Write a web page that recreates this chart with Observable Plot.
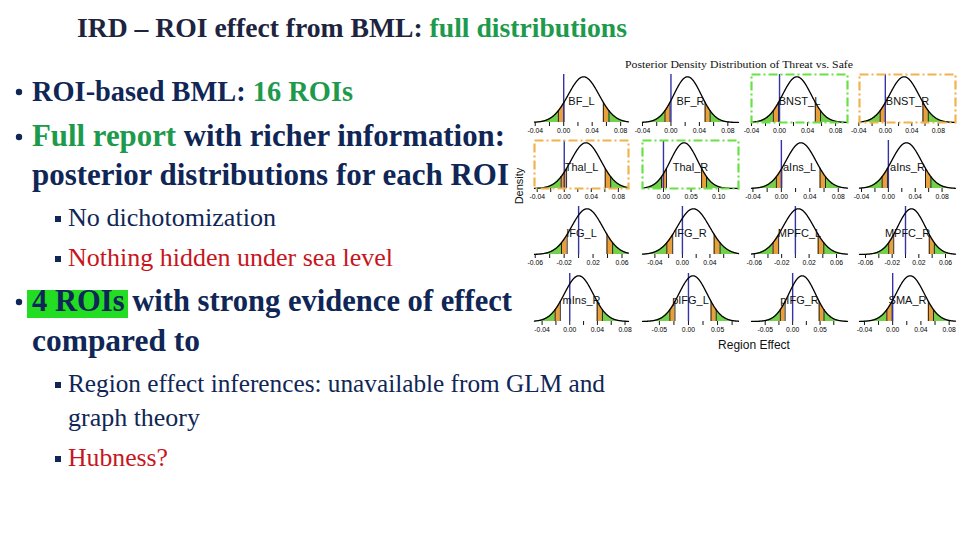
<!DOCTYPE html>
<html><head><meta charset="utf-8">
<script src="https://cdn.jsdelivr.net/npm/d3@7"></script>
<script src="https://cdn.jsdelivr.net/npm/@observablehq/plot@0.6"></script>
<style>
html,body{margin:0;padding:0;background:#fff;}
#slide{position:relative;width:960px;height:540px;overflow:hidden;background:#fff;}
#slide svg.panel{position:absolute;}
</style></head>
<body><div id="slide"></div>
<script>
// ---------- chart data ----------
const rois     = ["BF_L","BF_R","BNST_L","BNST_R","Thal_L","Thal_R","aIns_L","aIns_R",
                  "IFG_L","IFG_R","MPFC_L","MPFC_R","mIns_R","pIFG_L","pIFG_R","SMA_R"];
const postMean = [0.028,0.0233,0.0248,0.0285,0.032,0.0373,0.0275,0.027,
                  0.0117,0.016,0.0044,0.009,0.013,0.0078,0.0173,0.0248];
const postSD   = [0.0216,0.0193,0.0205,0.0221,0.0223,0.0248,0.0210,0.0221,
                  0.0215,0.0235,0.0225,0.0208,0.0208,0.0242,0.0242,0.0201];
const xLo      = [-0.041,-0.040,-0.040,-0.039,-0.044,-0.038,-0.042,-0.043,
                  -0.061,-0.058,-0.064,-0.069,-0.051,-0.079,-0.075,-0.047];
const xHi      = [0.091,0.095,0.097,0.106,0.095,0.136,0.093,0.100,
                  0.069,0.0815,0.076,0.075,0.085,0.086,0.100,0.089];
const ticksA   = [-0.04,-0.02,0,0.02,0.04,0.06,0.08];
const labelsA  = ["-0.04","","0.00","","0.04","","0.08"];
const ticksB   = [0,0.05,0.10];
const labelsB  = ["0.00","0.05","0.10"];
const ticksC   = [-0.06,-0.04,-0.02,0,0.02,0.04,0.06];
const labelsC  = ["-0.06","","-0.02","","0.02","","0.06"];
const ticksD   = [-0.04,-0.02,0,0.02,0.04,0.06];
const labelsD  = ["-0.04","","0.00","","0.04",""];
const ticksE   = [-0.05,-0.025,0,0.025,0.05,0.075];
const labelsE  = ["-0.05","","0.00","","0.05",""];
const panelTicks  = [ticksA,ticksA,ticksA,ticksA,ticksA,ticksB,ticksA,ticksA,
                     ticksC,ticksD,ticksC,ticksC,ticksA,ticksE,ticksE,ticksA];
const panelLabels = [labelsA,labelsA,labelsA,labelsA,labelsA,labelsB,labelsA,labelsA,
                     labelsC,labelsD,labelsC,labelsC,labelsA,labelsE,labelsE,labelsA];
const boxed    = ["","","green","orange","orange","green","","",
                  "","","","","","","",""];
const chartTitle = "Posterior Density Distribution of Threat vs. Safe";
const xLabel = "Region Effect";
const yLabel = "Density";

// ---------- slide text ----------
const NAVY = "#0f2656", TNAVY = "#1c2440", GREEN = "#1d9a4c", RED = "#c8151d";
const slideLines = [
  {x:77, y:37, w:550, size:28, bold:true, segs:[["IRD – ROI effect from BML:",TNAVY],["full distributions",GREEN]]},
  {x:32, y:101, w:321, size:31, bold:true, bullet:"dot", segs:[["ROI-based BML:",NAVY],["16 ROIs",GREEN]]},
  {x:32, y:146, w:473, size:31, bold:true, bullet:"dot", segs:[["Full report",GREEN],["with richer information:",NAVY]]},
  {x:32, y:185, w:477, size:31, bold:true, segs:[["posterior distributions for each ROI",NAVY]]},
  {x:68, y:226, w:208, size:25, bold:false, bullet:"sq", segs:[["No dichotomization",NAVY]]},
  {x:68, y:266, w:325, size:25, bold:false, bullet:"sq", segs:[["Nothing hidden under sea level",RED]]},
  {x:32, y:311, w:480, size:31, bold:true, bullet:"dot", hl:true, segs:[["4 ROIs",NAVY],["with strong evidence of effect",NAVY]]},
  {x:32, y:351, w:168, size:31, bold:true, segs:[["compared to",NAVY]]},
  {x:68, y:392, w:537, size:25, bold:false, bullet:"sq", segs:[["Region effect inferences: unavailable from GLM and",NAVY]]},
  {x:68, y:426, w:132, size:25, bold:false, segs:[["graph theory",NAVY]]},
  {x:68, y:466, w:100, size:25, bold:false, bullet:"sq", segs:[["Hubness?",RED]]}
];

const slide = d3.select("#slide");
const ov = slide.append("svg").attr("width",960).attr("height",540)
  .style("position","absolute").style("left","0px").style("top","0px");

slideLines.forEach(L => {
  if (L.hl) ov.append("rect").attr("x",27).attr("y",L.y-21).attr("width",101).attr("height",28).attr("fill","#22dd22");
  if (L.bullet === "dot") ov.append("circle").attr("cx",19).attr("cy",L.y-9).attr("r",3.2).attr("fill",NAVY);
  if (L.bullet === "sq") ov.append("rect").attr("x",55).attr("y",L.y-10).attr("width",6).attr("height",6).attr("fill",NAVY);
  let size = L.size;
  const font = t => t.attr("font-family","'Liberation Serif', serif").attr("font-size",size)
    .attr("font-weight",L.bold ? "bold" : "normal");
  const measure = s => { const m = font(ov.append("text")).text(s); const w = m.node().getComputedTextLength(); m.remove(); return w; };
  const fit = () => {
    const nat = L.segs.map(([s]) => measure(s));
    const space = measure("a a") - measure("aa");
    return {nat, space, k: L.w / (d3.sum(nat) + space * (L.segs.length - 1))};
  };
  let f = fit();
  if (f.k < 1) { size = size * f.k; f = fit(); }   // never squeeze glyphs: shrink the font instead
  let x = L.x;
  L.segs.forEach(([s,c], j) => {
    font(ov.append("text")).attr("x",x).attr("y",L.y).attr("fill",c)
      .attr("textLength",f.nat[j]*f.k).attr("lengthAdjust","spacingAndGlyphs").text(s);
    x += (f.nat[j] + f.space) * f.k;
  });
});

// figure labels
ov.append("text").attr("x",625).attr("y",68).attr("font-family","'Liberation Serif', serif")
  .attr("font-size",10).attr("textLength",228).attr("lengthAdjust","spacingAndGlyphs").attr("fill","#111").text(chartTitle);
ov.append("text").attr("transform","translate(523,186) rotate(-90)").attr("text-anchor","middle")
  .attr("font-family","'Liberation Sans', sans-serif").attr("font-size",11).attr("fill","#111").text(yLabel);
ov.append("text").attr("x",754).attr("y",349).attr("text-anchor","middle")
  .attr("font-family","'Liberation Sans', sans-serif").attr("font-size",12).attr("fill","#111").text(xLabel);

// ---------- panels ----------
const colLeft = [534, 642, 751, 859];
const colWidth = [94, 96, 96, 96];
const rowTop = [74, 140, 206, 273];
const frameH = 48, mTop = 3, mBot = 18;
const zOuter = 1.6449, zInner = 1.2816;
const FILL_G = "#72d04b", FILL_O = "#e8a03c", BLUE = "#3434a6";
const BOXC = {green:"#6be046", orange:"#f2b24c"};

rois.forEach((roi, i) => {
  const r = Math.floor(i / 4), c = i % 4;
  const m = postMean[i], s = postSD[i], lo = xLo[i], hi = xHi[i];
  const pdf = x => Math.exp(-0.5 * ((x - m) / s) ** 2) / (s * Math.sqrt(2 * Math.PI));
  const q = [m - zOuter * s, m - zInner * s, m + zInner * s, m + zOuter * s];
  const xs = d3.range(0, 301).map(k => lo + (hi - lo) * k / 300)
    .concat(q.filter(v => v > lo && v < hi)).sort((a, b) => a - b);
  const pts = xs.map(x => ({x, y: pdf(x)}));
  const seg = (a, b) => pts.filter(p => p.x >= a - 1e-12 && p.x <= b + 1e-12);
  const ymax = pdf(m) * 1.05;
  const labMap = new Map(panelTicks[i].map((t, k) => [t.toFixed(3), panelLabels[i][k]]));

  const marks = [
    Plot.areaY(seg(lo, q[0]), {x: "x", y: "y", fill: FILL_G}),
    Plot.areaY(seg(q[0], q[1]), {x: "x", y: "y", fill: FILL_O}),
    Plot.areaY(seg(q[2], q[3]), {x: "x", y: "y", fill: FILL_O}),
    Plot.areaY(seg(q[3], hi), {x: "x", y: "y", fill: FILL_G}),
    Plot.ruleX(q, {x: d => d, y1: 0, y2: d => pdf(d), stroke: "#111", strokeWidth: 0.9}),
    Plot.ruleX([0], {stroke: BLUE, strokeWidth: 1.4}),
    Plot.line(pts, {x: "x", y: "y", stroke: "#000", strokeWidth: 1.3}),
    Plot.text([roi], {frameAnchor: "middle", dy: 3, fontSize: 11, fontFamily: "'Liberation Sans', sans-serif", fill: "#111"}),
    Plot.axisX({ticks: panelTicks[i], tickSize: 4, tickPadding: 2, fontSize: 6.8,
                fontFamily: "'Liberation Sans', sans-serif", stroke: "#111",
                tickFormat: d => labMap.get((+d).toFixed(3)) ?? "", label: null})
  ];
  if (boxed[i]) marks.push(Plot.frame({stroke: BOXC[boxed[i]], strokeWidth: 2.2, strokeDasharray: "9,3,2,3"}));

  const svg = Plot.plot({
    width: colWidth[c], height: mTop + frameH + mBot,
    marginLeft: 0, marginRight: 0, marginTop: mTop, marginBottom: mBot,
    x: {domain: [lo, hi], axis: null},
    y: {domain: [0, ymax], axis: null},
    style: {background: "transparent", overflow: "visible"},
    marks
  });
  svg.classList.add("panel");
  svg.style.left = colLeft[c] + "px";
  svg.style.top = (rowTop[r] - mTop) + "px";
  document.getElementById("slide").appendChild(svg);
});
</script>
</body></html>
